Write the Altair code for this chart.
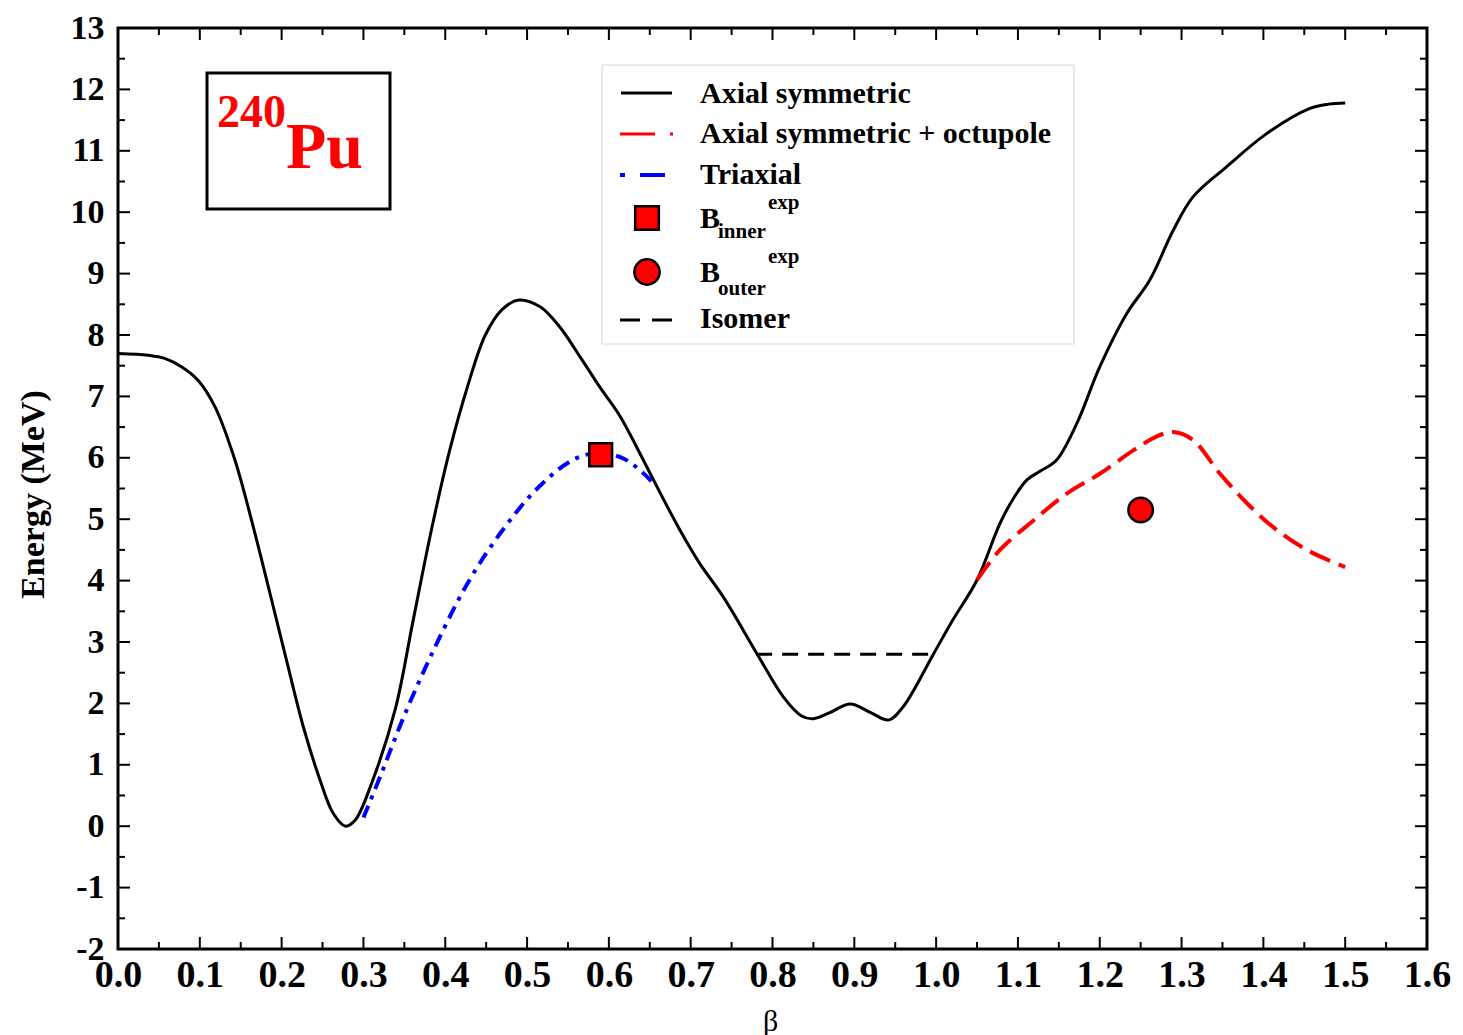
import altair as alt
import pandas as pd

# ---------------- data ----------------
axial_beta = [0.00, 0.037, 0.057, 0.078, 0.098, 0.1186, 0.143, 0.1654, 0.1858, 0.206, 0.2265,
              0.247, 0.263, 0.278, 0.29, 0.31, 0.339, 0.36, 0.383, 0.405, 0.427, 0.449, 0.47,
              0.49, 0.516, 0.54, 0.565, 0.589, 0.614, 0.638, 0.663, 0.687, 0.711, 0.74, 0.781,
              0.813, 0.835, 0.85, 0.87, 0.895, 0.92, 0.942, 0.96, 0.997, 1.02, 1.05, 1.078,
              1.095, 1.111, 1.127, 1.147, 1.172, 1.20, 1.233, 1.261, 1.29, 1.314, 1.355, 1.404,
              1.457, 1.48, 1.50]
axial_E = [7.70, 7.67, 7.62, 7.48, 7.26, 6.83, 5.96, 4.87, 3.79, 2.70, 1.62,
           0.75, 0.21, 0.00, 0.10, 0.70, 1.91, 3.30, 4.82, 6.10, 7.15, 8.00, 8.42,
           8.57, 8.46, 8.13, 7.64, 7.15, 6.67, 6.07, 5.42, 4.82, 4.28, 3.73, 2.81,
           2.11, 1.80, 1.75, 1.85, 1.99, 1.85, 1.73, 1.95, 2.81, 3.35, 4.01, 4.93,
           5.35, 5.64, 5.78, 5.96, 6.56, 7.48, 8.35, 8.89, 9.71, 10.25, 10.74, 11.28,
           11.69, 11.76, 11.78]

oct_beta = [1.05, 1.078, 1.119, 1.16, 1.20, 1.241, 1.27, 1.29, 1.314, 1.347, 1.38, 1.412, 1.453, 1.50]
oct_E = [4.01, 4.50, 4.98, 5.42, 5.74, 6.12, 6.35, 6.42, 6.29, 5.74, 5.26, 4.87, 4.50, 4.22]

tri_beta = [0.30, 0.322, 0.348, 0.383, 0.427, 0.47, 0.514, 0.558, 0.59, 0.619, 0.649, 0.655]
tri_E = [0.14, 0.86, 1.74, 2.79, 3.95, 4.82, 5.52, 5.98, 6.08, 5.98, 5.66, 5.55]

isomer_beta = [0.78, 0.995]
isomer_E = [2.8, 2.8]

inner_beta = [0.59]
inner_E = [6.05]
outer_beta = [1.25]
outer_E = [5.15]

x_major = [0.0, 0.1, 0.2, 0.3, 0.4, 0.5, 0.6, 0.7, 0.8, 0.9, 1.0, 1.1, 1.2, 1.3, 1.4, 1.5, 1.6]
x_minor = [0.05, 0.15, 0.25, 0.35, 0.45, 0.55, 0.65, 0.75, 0.85, 0.95, 1.05, 1.15, 1.25, 1.35, 1.45, 1.55]
y_major = [-2, -1, 0, 1, 2, 3, 4, 5, 6, 7, 8, 9, 10, 11, 12, 13]
y_minor = [-1.5, -0.5, 0.5, 1.5, 2.5, 3.5, 4.5, 5.5, 6.5, 7.5, 8.5, 9.5, 10.5, 11.5, 12.5]

legend_labels = ["Axial symmetric", "Axial symmetric + octupole", "Triaxial", "Isomer"]

# ---------------- layout ----------------
W, H = 1309, 921
FONT = "Liberation Serif"
CURVE = "catmull-rom"

xs = alt.Scale(domain=[0, 1.6], nice=False, zero=False)
ys = alt.Scale(domain=[-2, 13], nice=False, zero=False)

x_axis = alt.Axis(values=x_major, format=".1f", ticks=False, domain=False, grid=False,
                  labelFont=FONT, labelFontWeight="bold", labelFontSize=38, labelColor="black",
                  labelPadding=7, labelFlush=False, labelOverlap=False,
                  title="β", titleFont=FONT, titleFontWeight="normal", titleFontSize=30,
                  titleColor="black", titleX=652, titleY=72, titleBaseline="middle",
                  titleAlign="center")
y_axis = alt.Axis(values=y_major, ticks=False, domain=False, grid=False,
                  labelExpr="'' + datum.value",
                  labelFont=FONT, labelFontWeight="bold", labelFontSize=34, labelColor="black",
                  labelPadding=14, labelFlush=False, labelOverlap=False,
                  title="Energy (MeV)", titleFont=FONT, titleFontWeight="bold", titleFontSize=34,
                  titleColor="black", titleX=-85, titleY=466, titleAngle=270,
                  titleBaseline="middle", titleAlign="center")


def X(field="beta"):
    return alt.X(field, type="quantitative", scale=xs, axis=x_axis, title="β")


def Y(field="E"):
    return alt.Y(field, type="quantitative", scale=ys, axis=y_axis, title="Energy (MeV)")


def df(b, e):
    return pd.DataFrame({"beta": b, "E": e})


axial = alt.Chart(df(axial_beta, axial_E)).mark_line(
    color="black", strokeWidth=3, interpolate=CURVE).encode(x=X(), y=Y())
octu = alt.Chart(df(oct_beta, oct_E)).mark_line(
    color="red", strokeWidth=4, strokeDash=[22, 9], interpolate=CURVE).encode(x=X(), y=Y())
tri = alt.Chart(df(tri_beta, tri_E)).mark_line(
    color="blue", strokeWidth=4, strokeDash=[13, 7, 4, 7], interpolate=CURVE).encode(x=X(), y=Y())
iso = alt.Chart(df(isomer_beta, isomer_E)).mark_line(
    color="black", strokeWidth=3, strokeDash=[16, 10]).encode(x=X(), y=Y())
inner_pt = alt.Chart(df(inner_beta, inner_E)).mark_point(
    shape="square", filled=True, fill="red", stroke="black", strokeWidth=2.5,
    size=520, opacity=1).encode(x=X(), y=Y())
outer_pt = alt.Chart(df(outer_beta, outer_E)).mark_point(
    shape="circle", filled=True, fill="red", stroke="black", strokeWidth=2.5,
    size=600, opacity=1).encode(x=X(), y=Y())

# inward ticks on all four sides
xmaj = pd.DataFrame({"beta": x_major})
xmin = pd.DataFrame({"beta": x_minor})
ymaj = pd.DataFrame({"E": y_major})
ymin = pd.DataFrame({"E": y_minor})
tick_layers = []
for d, ln in ((xmaj, 12), (xmin, 7)):
    tick_layers.append(alt.Chart(d).mark_rule(color="black", strokeWidth=2).encode(
        x=X(), y=alt.value(H), y2=alt.value(H - ln)))
    tick_layers.append(alt.Chart(d).mark_rule(color="black", strokeWidth=2).encode(
        x=X(), y=alt.value(0), y2=alt.value(ln)))
for d, ln in ((ymaj, 12), (ymin, 7)):
    tick_layers.append(alt.Chart(d).mark_rule(color="black", strokeWidth=2).encode(
        y=Y(), x=alt.value(0), x2=alt.value(ln)))
    tick_layers.append(alt.Chart(d).mark_rule(color="black", strokeWidth=2).encode(
        y=Y(), x=alt.value(W), x2=alt.value(W - ln)))

# ---------------- annotations: nucleus box & legend ----------------
one = pd.DataFrame({"d": [0]})
base = alt.Chart(one)

nuc_box = base.mark_rect(fill="white", stroke="black", strokeWidth=3).encode(
    x=alt.value(89), x2=alt.value(272), y=alt.value(45), y2=alt.value(181))
nuc_mass = base.mark_text(font=FONT, fontWeight="bold", fontSize=46, color="red",
                          align="left", baseline="alphabetic").encode(
    x=alt.value(99), y=alt.value(99), text=alt.value("240"))
nuc_sym = base.mark_text(font=FONT, fontWeight="bold", fontSize=66, color="red",
                         align="left", baseline="alphabetic").encode(
    x=alt.value(168), y=alt.value(140), text=alt.value("Pu"))

leg_box = base.mark_rect(fill="white", stroke="#d6d6d6", strokeWidth=1).encode(
    x=alt.value(484), x2=alt.value(956), y=alt.value(37), y2=alt.value(316))
leg_l1 = base.mark_rule(color="black", strokeWidth=3).encode(
    x=alt.value(503), x2=alt.value(554), y=alt.value(65))
leg_l2 = base.mark_rule(color="red", strokeWidth=3, strokeDash=[35, 15, 3, 20]).encode(
    x=alt.value(502), x2=alt.value(556), y=alt.value(106))
leg_l3 = base.mark_rule(color="blue", strokeWidth=4, strokeDash=[5, 15, 25, 20]).encode(
    x=alt.value(502), x2=alt.value(548), y=alt.value(147))
leg_l4 = base.mark_rule(color="black", strokeWidth=3, strokeDash=[20, 12]).encode(
    x=alt.value(502), x2=alt.value(554), y=alt.value(292))
leg_sq = base.mark_point(shape="square", filled=True, fill="red", stroke="black",
                         strokeWidth=2.5, size=560, opacity=1).encode(
    x=alt.value(529), y=alt.value(190))
leg_ci = base.mark_point(shape="circle", filled=True, fill="red", stroke="black",
                         strokeWidth=2.5, size=640, opacity=1).encode(
    x=alt.value(529), y=alt.value(244))


def ltext(txt, x, y, size=30):
    return base.mark_text(font=FONT, fontWeight="bold", fontSize=size, color="black",
                          align="left", baseline="alphabetic").encode(
        x=alt.value(x), y=alt.value(y), text=alt.value(txt))


leg_texts = [
    ltext(legend_labels[0], 582, 75),
    ltext(legend_labels[1], 582, 115),
    ltext(legend_labels[2], 582, 156),
    ltext("B", 582, 200),
    ltext("inner", 600, 210, 21),
    ltext("exp", 650, 181, 21),
    ltext("B", 582, 254),
    ltext("outer", 600, 267, 21),
    ltext("exp", 650, 235, 21),
    ltext(legend_labels[3], 582, 300),
]

chart = alt.layer(
    axial, octu, tri, iso, inner_pt, outer_pt,
    *tick_layers,
    nuc_box, nuc_mass, nuc_sym,
    leg_box, leg_l1, leg_l2, leg_l3, leg_l4, leg_sq, leg_ci, *leg_texts,
).properties(
    width=W, height=H,
    autosize=alt.AutoSizeParams(type="none"),
    padding={"left": 118, "top": 28, "right": 36, "bottom": 86},
    background="white",
).configure_view(stroke="black", strokeWidth=3)

chart.save("out.html", embed_options={"renderer": "svg", "actions": False})
